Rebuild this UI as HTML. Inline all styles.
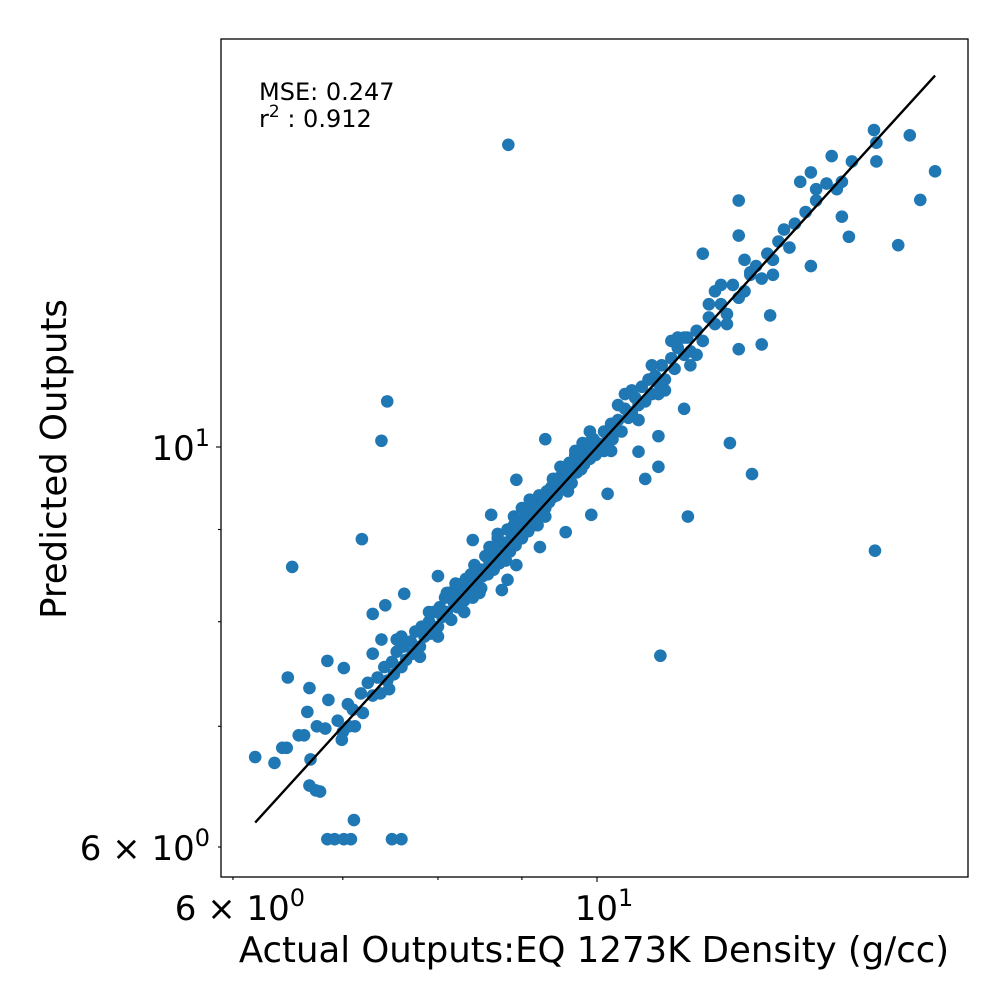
<!DOCTYPE html>
<html><head><meta charset="utf-8"><style>
html,body{margin:0;padding:0;background:#fff}
svg{display:block;font-family:"DejaVu Sans","Liberation Sans",sans-serif}
</style></head><body>
<svg id="chart" width="1008" height="1008" viewBox="0 0 1008 1008">
<rect x="0" y="0" width="1008" height="1008" fill="#fff"/>
<g id="points"></g>
<g id="ticks"></g>
<rect x="221" y="39" width="747" height="838" fill="none" stroke="#000" stroke-width="1.3"/>
<text x="259" y="100" font-size="24">MSE: 0.247</text>
<text x="259" y="127" font-size="24">r<tspan dy="-10" font-size="17">2</tspan><tspan dy="10"> : 0.912</tspan></text>
<text x="594" y="962" font-size="35.5" text-anchor="middle">Actual Outputs:EQ 1273K Density (g/cc)</text>
<text transform="translate(66,459) rotate(-90)" font-size="35.5" text-anchor="middle">Predicted Outputs</text>
</svg>
<script>
const actual = [
6.95,7.0,7.05,7.1,7.12,7.18,7.2,7.25,7.3,7.35,
7.38,7.42,7.45,7.5,7.52,7.55,7.6,7.62,7.65,7.7,
7.72,7.75,7.8,7.82,7.85,7.9,7.92,7.95,8.0,8.02,
8.05,8.08,8.1,8.12,8.15,8.18,8.2,8.22,8.25,8.28,
8.3,8.32,8.35,8.38,8.4,8.42,8.45,8.48,8.5,8.52,
8.55,8.58,8.6,8.62,8.65,8.68,8.7,8.72,8.75,8.78,
8.8,8.82,8.85,8.88,8.9,8.92,8.95,8.98,9.0,9.02,
9.05,9.08,9.1,9.12,9.15,9.18,9.2,9.22,9.25,9.28,
9.3,9.32,9.35,9.38,9.4,9.42,9.45,9.48,9.5,9.52,
9.55,9.58,9.6,9.62,9.65,9.68,9.7,9.72,9.75,9.78,
9.8,9.82,9.85,9.88,9.9,9.92,9.95,9.98,10.0,10.05,
10.1,10.12,10.15,10.2,10.22,10.25,10.3,10.35,10.4,10.45,
10.5,10.55,10.6,10.65,10.7,10.75,10.8,10.85,10.9,10.95,
11.0,11.1,11.15,11.2,11.3,11.35,11.4,11.5,11.6,11.7,
11.8,11.9,12.0,12.1,12.2,12.3,12.4,12.5,12.6,12.7,
12.8,12.9,13.0,13.1,13.2,13.4,13.6,13.8,14.0,14.3,
8.0,8.2,8.4,8.6,8.8,9.0,9.2,9.4,9.6,9.8,
7.6,7.8,8.1,8.5,8.9,9.3,9.7,10.1,10.5,10.9,
8.83,7.45,7.39,6.52,7.19,10.93,12.05,12.43,11.36,14.77,
15.26,15.74,16.07,15.51,14.8,14.8,14.75,14.24,14.1,12.2,
6.85,6.92,7.01,7.08,7.5,7.6,7.11,6.19,6.36,6.43,
6.47,6.58,6.63,6.69,6.74,6.68,6.78,6.48,6.68,6.66,
6.75,6.83,6.86,6.99,7.06,6.85,7.01,7.30,7.43,7.63,
7.39,7.47,7.30,13.3,13.5,13.6,13.9,14.1,12.4,12.75,
13.5,12.8,12.6,12.2,11.3,10.9,10.9,10.7,10.6,10.15,
9.92,9.57,9.23,8.93,8.82,8.75,8.46,9.3,8.93,8.62,
8.4,8.0,7.55,12.2,11.9,11.6,11.3,
10.3,10.6,10.8,11.0,11.2,11.5,11.7,9.9,10.2,10.4,
11.1,11.4,11.8,12.0,12.3,9.5,9.1,8.7,8.3,7.9
];
const predicted = [
7.05,6.95,7.2,7.15,7.0,7.3,7.12,7.4,7.28,7.45,
7.3,7.55,7.42,7.6,7.48,7.7,7.55,7.75,7.62,7.8,
7.68,7.9,7.75,7.95,7.85,8.0,7.88,8.1,7.95,8.15,
8.05,8.25,8.1,8.3,8.02,8.2,8.35,8.15,8.28,8.4,
8.22,8.45,8.3,8.5,8.38,8.6,8.42,8.3,8.55,8.48,
8.7,8.5,8.62,8.8,8.55,8.72,8.9,8.62,8.78,8.68,
8.85,9.0,8.75,8.92,9.05,8.82,8.98,9.1,8.9,9.05,
9.15,8.98,9.1,9.25,9.05,9.3,9.15,9.4,9.2,9.35,
9.25,9.45,9.32,9.5,9.38,9.6,9.4,9.55,9.48,9.65,
9.5,9.7,9.62,9.8,9.55,9.75,9.9,9.68,9.8,9.72,
9.95,9.78,9.88,10.05,9.85,9.98,10.1,9.9,10.05,10.0,
10.2,10.05,10.15,10.3,10.1,10.25,10.35,10.2,10.5,10.38,
10.45,10.65,10.55,10.8,10.6,10.9,10.7,10.95,10.85,11.1,
10.9,11.2,11.05,11.35,11.25,11.5,11.3,11.6,11.45,11.8,
11.7,12.0,11.85,12.3,12.1,12.2,12.5,12.6,12.4,12.8,
12.7,13.0,13.2,12.9,13.3,13.5,13.7,14.0,13.9,14.4,
7.85,8.4,8.25,8.8,8.65,9.25,9.05,9.6,9.45,10.05,
7.85,7.65,8.3,8.35,9.15,9.15,9.95,9.95,10.75,10.7,
14.71,10.6,10.08,8.58,8.89,7.66,10.05,9.66,9.15,8.76,
12.94,13.71,14.22,14.89,14.4,14.75,14.99,13.08,13.42,13.1,
6.06,6.06,6.06,6.06,6.06,6.06,6.21,6.73,6.68,6.81,
6.81,6.92,6.92,6.71,6.45,6.49,6.44,7.45,7.35,7.13,
7.0,6.98,7.24,6.88,7.0,7.61,7.54,8.08,8.17,8.29,
7.82,7.34,7.68,14.03,14.2,13.9,14.5,14.03,12.46,11.83,
12.6,12.46,11.4,11.33,10.5,10.14,9.75,9.6,9.94,9.42,
9.17,8.97,8.8,8.6,8.44,8.33,8.3,10.1,9.59,9.17,
8.88,8.48,7.82,13.7,12.3,12.8,11.5,
10.55,10.35,11.1,10.75,11.5,11.25,12.0,10.2,9.95,10.7,
11.45,11.1,12.2,11.7,12.7,9.75,9.35,8.95,8.1,8.1
];
const idealLine = [6.19, 16.07];
const majorTicks = [10];
const minorTicks = [6, 7, 8, 9];

const NS = "http://www.w3.org/2000/svg";
function xs(v){ return 597 + 1641 * (Math.log10(v) - 1); }
function ys(v){ return 447 - 1803 * (Math.log10(v) - 1); }
function mk(tag, attrs, parent){ const e = document.createElementNS(NS, tag); for (const k in attrs) e.setAttribute(k, attrs[k]); parent.appendChild(e); return e; }

const pg = document.getElementById('points');
const n = Math.min(actual.length, predicted.length);
for (let i = 0; i < n; i++) {
  const c = mk('circle', {cx: xs(actual[i]), cy: ys(predicted[i]), r: 6.3, fill: '#1f77b4'}, pg);
  
  
}
const ln = mk('line', {x1: xs(idealLine[0]), y1: ys(idealLine[0]), x2: xs(idealLine[1]), y2: ys(idealLine[1]), stroke: '#000', 'stroke-width': 2.4}, pg);



const tg = document.getElementById('ticks');
function tick(v, len){
  const tx = mk('line', {x1: xs(v), x2: xs(v), y1: 877, y2: 877 + len, stroke: '#000', 'stroke-width': 1.1}, tg);
  
  
  const ty = mk('line', {x1: 221, x2: 221 - len, y1: ys(v), y2: ys(v), stroke: '#000', 'stroke-width': 1.1}, tg);
  
  
}
majorTicks.forEach(v => tick(v, 5));
minorTicks.forEach(v => tick(v, 3));

function label(x, y, anchor, base, exp, name){
  const t = mk('text', {x: x, y: y, 'font-size': 34, 'text-anchor': anchor}, tg);
  
  
  t.appendChild(document.createTextNode(base));
  const s = mk('tspan', {dy: -14, 'font-size': 24}, t);
  s.textContent = exp;
}
label(xs(6) + 7, 920, 'middle', '6 \u00d7 10', '0', 'x-tick-label-6');
label(xs(10) + 7, 920, 'middle', '10', '1', 'x-tick-label-10');
label(210, ys(10) + 13, 'end', '10', '1', 'y-tick-label-10');
label(210, ys(6) + 13, 'end', '6 \u00d7 10', '0', 'y-tick-label-6');
</script>
</body></html>
